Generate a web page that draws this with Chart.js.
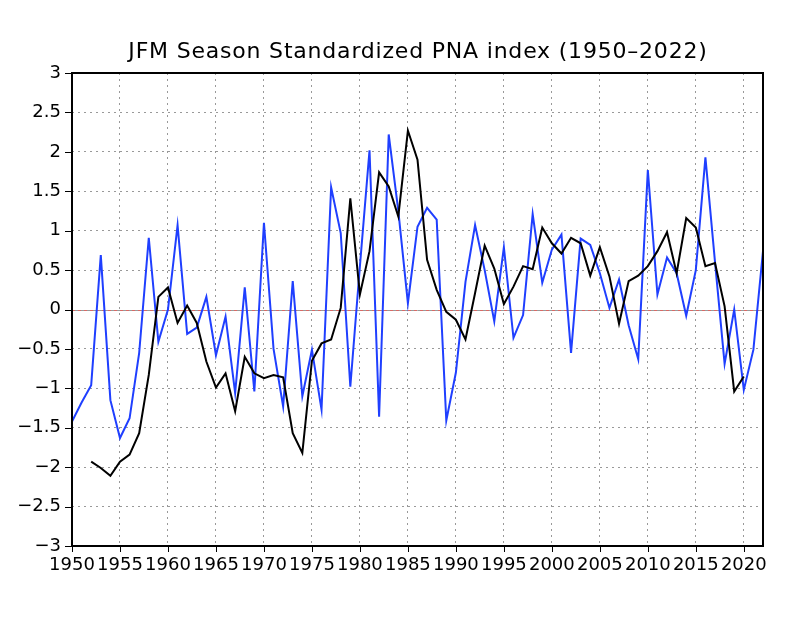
<!DOCTYPE html>
<html>
<head>
<meta charset="utf-8">
<script src="https://cdn.jsdelivr.net/npm/chart.js@4.4.0/dist/chart.umd.min.js"></script>
<style>
  body { margin: 0; background: #fff; }
  canvas { display: block; }
</style>
</head>
<body>
<canvas id="chart" width="800" height="618"></canvas>
<script>
// years 1950..2022
const years = Array.from({ length: 73 }, (_, i) => 1950 + i);

// yearly JFM standardized PNA (blue)
const pnaIndex = [
  -1.42, -1.18, -0.96, 0.69, -1.15, -1.63, -1.38, -0.55, 0.91, -0.41,
  0.00, 1.07, -0.31, -0.23, 0.16, -0.58, -0.09, -1.06, 0.28, -1.04,
  1.10, -0.50, -1.23, 0.36, -1.10, -0.51, -1.27, 1.55, 0.97, -0.98,
  0.55, 2.02, -1.36, 2.22, 1.25, 0.08, 1.05, 1.29, 1.14, -1.41,
  -0.80, 0.35, 1.07, 0.50, -0.15, 0.79, -0.36, -0.07, 1.21, 0.34,
  0.76, 0.95, -0.55, 0.90, 0.82, 0.46, 0.02, 0.38, -0.20, -0.63,
  1.77, 0.19, 0.66, 0.46, -0.08, 0.50, 1.93, 0.60, -0.69, 0.00,
  -1.02, -0.51, 0.74
];

// smoothed curve (black), 1952..2020
const smoothed = [
  null, null, -1.93, -2.01, -2.11, -1.93, -1.84, -1.57, -0.83, 0.16,
  0.28, -0.17, 0.05, -0.17, -0.66, -0.99, -0.81, -1.29, -0.60, -0.81,
  -0.87, -0.83, -0.86, -1.57, -1.82, -0.65, -0.43, -0.38, 0.02, 1.41,
  0.19, 0.74, 1.74, 1.56, 1.18, 2.27, 1.90, 0.63, 0.25, -0.03,
  -0.13, -0.38, 0.21, 0.81, 0.52, 0.07, 0.29, 0.55, 0.51, 1.04,
  0.84, 0.71, 0.91, 0.84, 0.43, 0.79, 0.42, -0.18, 0.36, 0.43,
  0.55, 0.74, 0.98, 0.46, 1.16, 1.04, 0.55, 0.59, 0.04, -1.04,
  -0.85, null, null
];

const xTickYears = [1950, 1955, 1960, 1965, 1970, 1975, 1980, 1985, 1990, 1995, 2000, 2005, 2010, 2015, 2020];
const yTicks = [-3, -2.5, -2, -1.5, -1, -0.5, 0, 0.5, 1, 1.5, 2, 2.5, 3];

const FONT = "DejaVu Sans";
const isMajor = i => xTickYears.includes(years[i]);
const fmt = v => (v < 0 ? "\u2212" + Math.abs(v) : String(v));

const framePlugin = {
  id: "frame",
  beforeDatasetsDraw(chart) {
    const { ctx, chartArea: a, scales } = chart;
    const y0 = Math.round(scales.y.getPixelForValue(0)) + 0.5;
    ctx.save();
    ctx.lineWidth = 1;
    ctx.strokeStyle = "#999";
    ctx.beginPath(); ctx.moveTo(a.left, y0); ctx.lineTo(a.right, y0); ctx.stroke();
    ctx.strokeStyle = "#d86a66";
    ctx.setLineDash([3, 3]);
    ctx.beginPath(); ctx.moveTo(a.left, y0); ctx.lineTo(a.right, y0); ctx.stroke();
    ctx.restore();
  },
  afterDatasetsDraw(chart) {
    const { ctx, chartArea: a, scales } = chart;
    ctx.save();
    ctx.strokeStyle = "#000";
    ctx.lineWidth = 1;
    ctx.beginPath();
    yTicks.forEach(v => {
      const py = Math.round(scales.y.getPixelForValue(v)) + 0.5;
      ctx.moveTo(a.left - 7, py); ctx.lineTo(a.left, py);
    });
    xTickYears.forEach(yr => {
      const px = Math.round(scales.x.getPixelForValue(years.indexOf(yr))) + 0.5;
      ctx.moveTo(px, a.bottom); ctx.lineTo(px, a.bottom + 6);
    });
    ctx.stroke();
    ctx.lineWidth = 2;
    ctx.strokeRect(a.left, a.top, a.right - a.left, a.bottom - a.top);
    ctx.restore();
  },
  afterDraw(chart) {
    const { ctx } = chart;
    ctx.save();
    ctx.font = "22px '" + FONT + "'";
    ctx.letterSpacing = "0.8px";
    ctx.fillStyle = "#000";
    ctx.textAlign = "center";
    ctx.textBaseline = "alphabetic";
    ctx.fillText("JFM Season Standardized PNA index (1950\u20132022)", 418, 58);
    ctx.restore();
  }
};

new Chart(document.getElementById("chart"), {
  type: "line",
  data: {
    labels: years,
    datasets: [
      {
        label: "PNA",
        data: pnaIndex,
        borderColor: "#1f3fff",
        borderWidth: 2,
        pointRadius: 0,
        tension: 0,
        order: 2
      },
      {
        label: "smoothed",
        data: smoothed,
        borderColor: "#000",
        borderWidth: 2,
        pointRadius: 0,
        tension: 0,
        order: 1
      }
    ]
  },
  options: {
    responsive: false,
    animation: false,
    layout: { padding: { top: 73, right: 37, left: 0, bottom: 0 } },
    plugins: { legend: { display: false }, tooltip: { enabled: false } },
    scales: {
      x: {
        type: "category",
        offset: false,
        grid: {
          color: c => (isMajor(c.index) ? "#999" : "rgba(0,0,0,0)"),
          lineWidth: 1,
          drawTicks: false
        },
        border: { display: false, dash: [2, 4] },
        ticks: {
          autoSkip: false,
          maxRotation: 0,
          minRotation: 0,
          padding: 9,
          color: "#000",
          font: { family: FONT, size: 18 },
          callback: (v, i) => (isMajor(i) ? String(years[i]) : "")
        },
        afterFit: s => { s.height = 72; }
      },
      y: {
        min: -3,
        max: 3,
        afterBuildTicks: s => { s.ticks = yTicks.map(v => ({ value: v })); },
        grid: {
          color: c => (c.tick && c.tick.value === 0 ? "rgba(0,0,0,0)" : "#999"),
          lineWidth: 1,
          drawTicks: false
        },
        border: { display: false, dash: [2, 4] },
        ticks: {
          padding: 11,
          color: "#000",
          font: { family: FONT, size: 18 },
          callback: v => fmt(v)
        },
        afterFit: s => { s.width = 72; }
      }
    }
  },
  plugins: [framePlugin]
});
</script>
</body>
</html>
